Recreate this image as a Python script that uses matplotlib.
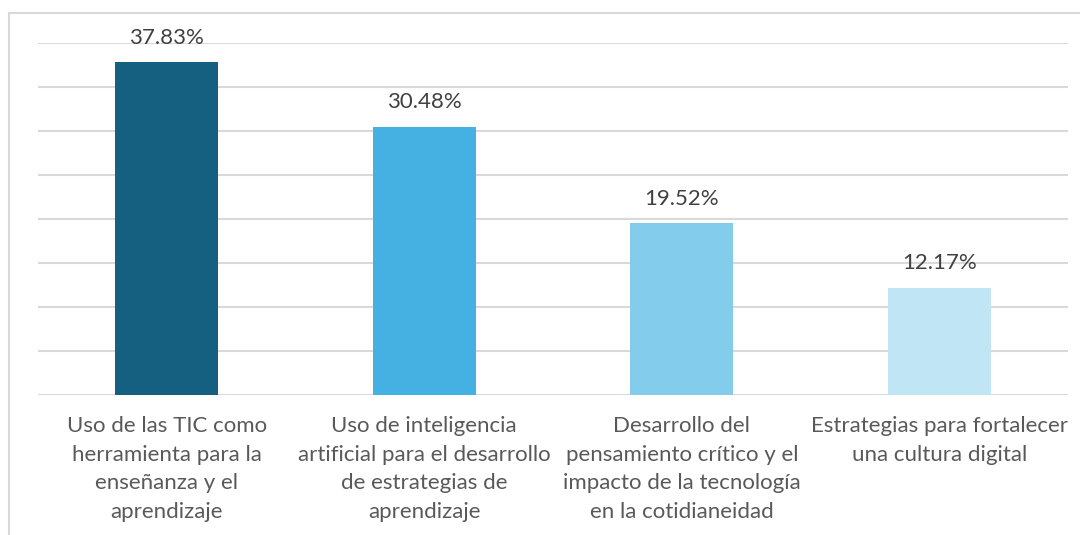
import matplotlib
matplotlib.use("Agg")
import matplotlib.pyplot as plt
from matplotlib.patches import Rectangle

categories = [
    "Uso de las TIC como\nherramienta para la\nenseñanza y el\naprendizaje",
    "Uso de inteligencia\nartificial para el desarrollo\nde estrategias de\naprendizaje",
    "Desarrollo del\npensamiento crítico y el\nimpacto de la tecnología\nen la cotidianeidad",
    "Estrategias para fortalecer\nuna cultura digital",
]
values = [37.83, 30.48, 19.52, 12.17]
colors = ["#155F80", "#45B1E2", "#83CCEB", "#C0E5F5"]

plt.rcParams['font.family'] = ['Lato', 'DejaVu Sans']
W, H = 1080, 535
fig = plt.figure(figsize=(W / 100, H / 100), dpi=100)
fig.patches.append(Rectangle((9 / W, -0.1), 1.2, (H - 13) / H + 0.1,
                             transform=fig.transFigure, fill=False,
                             edgecolor="#D9D9D9", linewidth=1.5))
ax = fig.add_axes([38 / W, (H - 395) / H, 1030 / W, (395 - 43) / H])
x = range(len(values))
bars = ax.bar(x, values, width=0.4, color=colors, zorder=3)
ax.set_xlim(-0.5, len(values) - 0.5)
ax.set_ylim(0, 40)
ax.set_yticks(range(0, 41, 5))
ax.yaxis.grid(True, color="#D9D9D9", linewidth=1.5, zorder=0)
ax.tick_params(axis="y", length=0, labelleft=False)
ax.tick_params(axis="x", length=0, pad=15)
ax.set_xticks(list(x))
ax.set_xticklabels(categories, fontsize=16, color="#595959", linespacing=1.55)
for s in ax.spines.values():
    s.set_visible(False)
for b, v in zip(bars, values):
    ax.annotate(f"{v:.2f}%", (b.get_x() + b.get_width() / 2, v),
                xytext=(0, 10.5), textcoords="offset points", ha="center",
                va="bottom", fontsize=16, color="#404040")
fig.savefig("out.png", dpi=100)
